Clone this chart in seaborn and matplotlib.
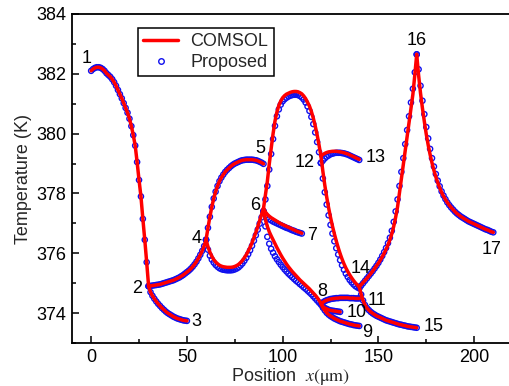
import numpy as np
import pandas as pd
import matplotlib
matplotlib.use("Agg")
import matplotlib.pyplot as plt
from matplotlib.lines import Line2D
import seaborn as sns

# ---------------- data (temperature in K, 1 um sampling along each branch) ----------------
branches = [
    ("1-2", 0, 30), ("2-3", 30, 50), ("2-4", 30, 60), ("4-5", 60, 90),
    ("4-6", 60, 90), ("6-7", 90, 110), ("6-8", 90, 120), ("8-9", 120, 140),
    ("8-10", 120, 130), ("8-11", 120, 140), ("6-12", 90, 120), ("12-13", 120, 140),
    ("12-14", 120, 140), ("14-15", 140, 170), ("14-16", 140, 170), ("16-17", 170, 210),
]

# COMSOL values
T_1_2 = [382.10, 382.16, 382.20, 382.22, 382.22, 382.20, 382.16, 382.10, 382.02, 381.96,
         381.90, 381.82, 381.72, 381.60, 381.46, 381.32, 381.18, 381.02, 380.86, 380.70,
         380.50, 380.25, 379.95, 379.60, 379.05, 378.45, 377.90, 377.15, 376.45, 375.70, 374.90]
T_2_3 = [374.90, 374.70, 374.58, 374.48, 374.39, 374.31, 374.24, 374.17, 374.11, 374.05,
         374.00, 373.96, 373.92, 373.88, 373.85, 373.82, 373.80, 373.78, 373.76, 373.75, 373.74]
T_2_4 = [374.90, 374.91, 374.92, 374.93, 374.94, 374.95, 374.96, 374.98, 375.00, 375.02,
         375.04, 375.06, 375.08, 375.10, 375.13, 375.16, 375.19, 375.23, 375.27, 375.32,
         375.37, 375.42, 375.48, 375.55, 375.63, 375.72, 375.83, 375.95, 376.08, 376.24, 376.45]
T_4_5 = [376.45, 376.85, 377.22, 377.55, 377.83, 378.06, 378.25, 378.41, 378.53, 378.63,
         378.72, 378.79, 378.85, 378.91, 378.96, 379.00, 379.03, 379.06, 379.09, 379.11,
         379.12, 379.13, 379.13, 379.13, 379.13, 379.12, 379.11, 379.09, 379.06, 379.03, 378.99]
T_4_6 = [376.45, 376.22, 376.04, 375.90, 375.79, 375.71, 375.65, 375.60, 375.57, 375.55,
         375.54, 375.53, 375.53, 375.53, 375.54, 375.56, 375.59, 375.63, 375.69, 375.76,
         375.85, 375.95, 376.07, 376.20, 376.35, 376.52, 376.70, 376.89, 377.09, 377.30, 377.50]
T_6_7 = [377.50, 377.38, 377.30, 377.24, 377.19, 377.15, 377.11, 377.07, 377.03, 376.99,
         376.96, 376.93, 376.90, 376.87, 376.84, 376.81, 376.78, 376.75, 376.72, 376.70, 376.67]
T_6_8 = [377.50, 377.12, 376.90, 376.72, 376.58, 376.45, 376.32, 376.19, 376.07, 375.95,
         375.84, 375.74, 375.64, 375.55, 375.47, 375.39, 375.32, 375.25, 375.18, 375.11,
         375.05, 374.99, 374.93, 374.87, 374.81, 374.74, 374.67, 374.60, 374.52, 374.43, 374.32]
T_8_9 = [374.32, 374.18, 374.09, 374.01, 373.95, 373.90, 373.86, 373.82, 373.79, 373.76,
         373.73, 373.71, 373.69, 373.67, 373.65, 373.63, 373.62, 373.60, 373.59, 373.58, 373.57]
T_8_10 = [374.32, 374.22, 374.17, 374.14, 374.11, 374.09, 374.08, 374.07, 374.06, 374.05, 374.04]
T_8_11 = [374.32, 374.36, 374.40, 374.43, 374.45, 374.47, 374.48, 374.49, 374.50, 374.50,
          374.51, 374.51, 374.51, 374.51, 374.51, 374.50, 374.50, 374.50, 374.49, 374.49, 374.49]
T_6_12 = [377.50, 377.95, 378.40, 378.98, 379.50, 380.00, 380.42, 380.72, 380.94, 381.09,
          381.20, 381.27, 381.32, 381.35, 381.38, 381.40, 381.41, 381.41, 381.40, 381.37,
          381.33, 381.26, 381.17, 381.05, 380.92, 380.74, 380.52, 380.26, 379.96, 379.62, 379.25]
T_12_13 = [379.25, 379.30, 379.34, 379.37, 379.39, 379.40, 379.41, 379.41, 379.41, 379.40,
           379.39, 379.38, 379.36, 379.34, 379.32, 379.29, 379.26, 379.23, 379.20, 379.17, 379.14]
T_12_14 = [379.25, 378.74, 378.28, 377.88, 377.52, 377.20, 376.91, 376.65, 376.41, 376.19,
           375.99, 375.81, 375.65, 375.51, 375.39, 375.28, 375.18, 375.09, 375.01, 374.94, 374.88]
T_14_15 = [374.88, 374.62, 374.42, 374.27, 374.17, 374.10, 374.04, 373.99, 373.95, 373.91,
           373.88, 373.85, 373.82, 373.79, 373.76, 373.74, 373.72, 373.70, 373.68, 373.66,
           373.64, 373.62, 373.61, 373.59, 373.58, 373.56, 373.55, 373.54, 373.53, 373.52, 373.51]
T_14_16 = [374.88, 374.95, 375.02, 375.09, 375.16, 375.24, 375.32, 375.40, 375.49, 375.58,
           375.67, 375.77, 375.88, 376.00, 376.13, 376.28, 376.45, 376.65, 376.90, 377.20,
           377.55, 378.02, 378.49, 378.96, 379.43, 379.90, 380.37, 380.84, 381.31, 381.95, 382.65]
T_16_17 = [382.65, 381.95, 381.35, 380.85, 380.40, 379.98, 379.62, 379.30, 379.02, 378.77,
           378.55, 378.36, 378.19, 378.04, 377.91, 377.80, 377.70, 377.61, 377.53, 377.46,
           377.39, 377.33, 377.28, 377.23, 377.19, 377.15, 377.11, 377.07, 377.04, 377.01,
           376.98, 376.95, 376.92, 376.89, 376.86, 376.83, 376.80, 376.78, 376.75, 376.72, 376.70]

# Proposed-model values (only branches that visibly deviate are listed separately)
P_4_6 = [376.45, 376.12, 375.92, 375.79, 375.69, 375.61, 375.55, 375.50, 375.47, 375.45,
         375.44, 375.43, 375.43, 375.43, 375.44, 375.46, 375.49, 375.53, 375.59, 375.66,
         375.75, 375.85, 375.97, 376.10, 376.25, 376.42, 376.60, 376.79, 376.99, 377.20, 377.40]
P_6_7 = [377.40, 377.28, 377.20, 377.14, 377.10, 377.06, 377.03, 377.00, 376.97, 376.94,
         376.91, 376.88, 376.85, 376.83, 376.80, 376.77, 376.75, 376.72, 376.70, 376.68, 376.66]
P_6_8 = [377.40, 376.90, 376.55, 376.32, 376.15, 376.02, 375.90, 375.80, 375.71, 375.62,
         375.54, 375.46, 375.39, 375.32, 375.26, 375.20, 375.14, 375.08, 375.03, 374.97,
         374.92, 374.86, 374.81, 374.75, 374.69, 374.63, 374.56, 374.49, 374.42, 374.35, 374.28]
P_6_12 = [377.40, 377.80, 378.25, 378.80, 379.32, 379.82, 380.26, 380.58, 380.81, 380.97,
          381.08, 381.15, 381.20, 381.24, 381.27, 381.29, 381.30, 381.30, 381.29, 381.26,
          381.21, 381.14, 381.04, 380.91, 380.76, 380.56, 380.32, 380.04, 379.72, 379.38, 379.02]
P_12_13 = [379.02, 379.10, 379.17, 379.23, 379.27, 379.31, 379.33, 379.35, 379.36, 379.36,
           379.36, 379.35, 379.34, 379.32, 379.30, 379.27, 379.24, 379.21, 379.18, 379.15, 379.12]
P_12_14 = [379.02, 378.50, 378.04, 377.63, 377.27, 376.95, 376.66, 376.40, 376.17, 375.96,
           375.77, 375.60, 375.45, 375.32, 375.21, 375.11, 375.03, 374.96, 374.90, 374.86, 374.83]
P_14_16 = [374.83, 374.92, 375.00, 375.08, 375.16, 375.24, 375.32, 375.40, 375.49, 375.58,
           375.68, 375.79, 375.91, 376.04, 376.18, 376.34, 376.52, 376.75, 377.05, 377.40,
           377.80, 378.25, 378.72, 379.18, 379.65, 380.12, 380.58, 381.04, 381.50, 382.05, 382.65]
P_16_17 = [382.65, 382.15, 381.60, 381.10, 380.65, 380.22, 379.84, 379.49, 379.18, 378.90,
           378.65, 378.43, 378.24, 378.07, 377.93, 377.81, 377.70, 377.61, 377.53, 377.46,
           377.39, 377.33, 377.28, 377.23, 377.19, 377.15, 377.11, 377.07, 377.04, 377.01,
           376.98, 376.95, 376.92, 376.89, 376.86, 376.83, 376.80, 376.78, 376.75, 376.72, 376.70]

comsol = {"1-2": T_1_2, "2-3": T_2_3, "2-4": T_2_4, "4-5": T_4_5, "4-6": T_4_6,
          "6-7": T_6_7, "6-8": T_6_8, "8-9": T_8_9, "8-10": T_8_10, "8-11": T_8_11,
          "6-12": T_6_12, "12-13": T_12_13, "12-14": T_12_14, "14-15": T_14_15,
          "14-16": T_14_16, "16-17": T_16_17}
proposed = dict(comsol)
proposed.update({"4-6": P_4_6, "6-7": P_6_7, "6-8": P_6_8, "6-12": P_6_12,
                 "12-13": P_12_13, "12-14": P_12_14, "14-16": P_14_16, "16-17": P_16_17})

# node labels: number, x, T
node_ids = ["1", "2", "3", "4", "5", "6", "7", "8", "9", "10", "11", "12", "13", "14", "15", "16", "17"]
node_x = [-2.6, 23.9, 54.8, 55.2, 88.2, 85.6, 115.2, 120.5, 144.0, 138.7, 149.2, 111.7, 148.8, 140.5, 178.8, 170.0, 209.3]
node_T = [382.52, 374.81, 373.71, 376.49, 379.50, 377.59, 376.58, 374.73, 373.34, 374.01, 374.42, 379.04, 379.21, 375.50, 373.56, 383.13, 376.14]

x_ticks = [0, 50, 100, 150, 200]
y_ticks = [374, 376, 378, 380, 382, 384]

# ---------------- build tables ----------------
rows_c, rows_p = [], []
for name, x0, x1 in branches:
    xs = np.arange(x0, x1 + 1)
    for xv, tv in zip(xs, comsol[name]):
        rows_c.append((name, xv, tv))
    for xv, tv in zip(xs, proposed[name]):
        rows_p.append((name, xv, tv))
df_c = pd.DataFrame(rows_c, columns=["branch", "x", "T"])
df_p = pd.DataFrame(rows_p, columns=["branch", "x", "T"])

# ---------------- plot ----------------
sns.set_style("ticks")
plt.rcParams["font.family"] = ["Liberation Sans", "DejaVu Sans"]
plt.rcParams["mathtext.fontset"] = "stix"
FS = 13

fig = plt.figure(figsize=(5.09, 3.86), dpi=100)
ax = fig.add_axes([72 / 509, 43 / 386, 437 / 509, 329 / 386])

sns.scatterplot(data=df_p, x="x", y="T", marker="o", s=14, facecolors="none",
                edgecolors="#1010ee", linewidths=1.0, ax=ax, zorder=2, legend=False)
sns.lineplot(data=df_c, x="x", y="T", units="branch", estimator=None, sort=False,
             color="#ff0000", linewidth=2.5, ax=ax, zorder=3, legend=False)

for lab, xv, tv in zip(node_ids, node_x, node_T):
    ax.text(xv, tv, lab, ha="center", va="center", fontsize=FS, color="black", zorder=5)

ax.set_xlim(-10, 218.2)
ax.set_ylim(373, 384)
ax.set_xticks(x_ticks)
ax.set_yticks(y_ticks)
ax.set_xticks([25, 75, 125, 175], minor=True)
ax.set_yticks([373, 375, 377, 379, 381, 383], minor=True)
ax.tick_params(axis="both", which="major", direction="in", length=5, width=1.1,
               labelsize=FS, color="black", labelcolor="black")
ax.tick_params(axis="both", which="minor", direction="in", length=3, width=1.1, color="black")
ax.tick_params(axis="x", which="both", top=False, pad=4)
ax.tick_params(axis="y", which="both", right=False, pad=4)
for side in ["left", "bottom", "top"]:
    ax.spines[side].set_linewidth(1.3)
    ax.spines[side].set_color("black")
ax.spines["right"].set_visible(False)

ax.set_xlabel(r"Position  $x(\mathrm{\mu m})$", fontsize=FS, labelpad=0)
ax.set_ylabel("Temperature (K)", fontsize=FS, labelpad=3)

handles = [Line2D([], [], color="#ff0000", linewidth=2.5),
           Line2D([], [], color="#1010ee", marker="o", linestyle="none",
                  markerfacecolor="none", markersize=4, markeredgewidth=1.0)]
leg = ax.legend(handles, ["COMSOL", "Proposed"], loc="upper left",
                bbox_to_anchor=(138 / 509, 1 - 28 / 386), bbox_transform=fig.transFigure,
                borderaxespad=0, fontsize=FS, frameon=True, fancybox=False,
                edgecolor="black", framealpha=1, handlelength=1.9, handletextpad=0.7,
                labelspacing=0.2, borderpad=0.3)
leg.get_frame().set_linewidth(1.1)

fig.savefig("out.png", dpi=100)
